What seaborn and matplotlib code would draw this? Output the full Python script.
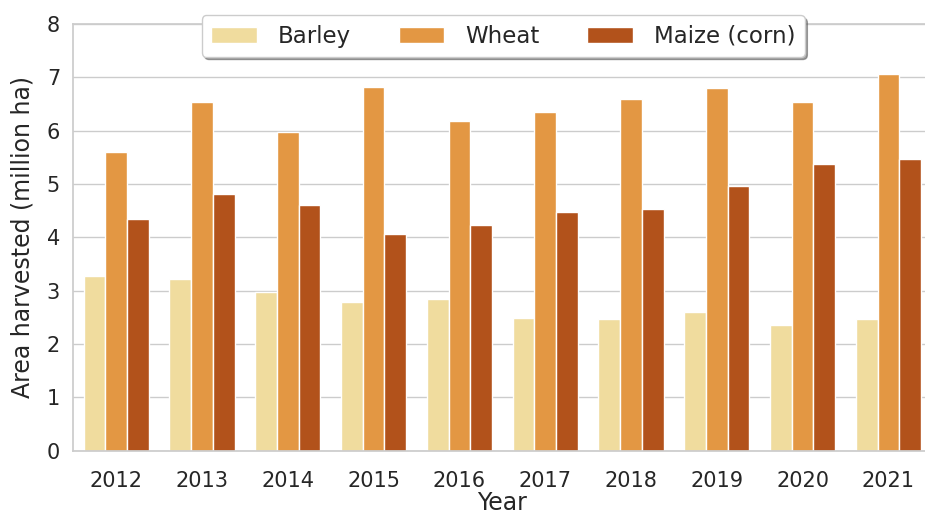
import pandas as pd
import matplotlib.pyplot as plt
import seaborn as sns

# Area harvested per crop, million hectares
years = [2012, 2013, 2014, 2015, 2016, 2017, 2018, 2019, 2020, 2021]
barley = [3.27, 3.21, 2.98, 2.79, 2.84, 2.49, 2.47, 2.60, 2.36, 2.46]
wheat = [5.60, 6.54, 5.98, 6.81, 6.19, 6.35, 6.60, 6.80, 6.54, 7.07]
maize = [4.35, 4.81, 4.61, 4.06, 4.23, 4.47, 4.54, 4.97, 5.37, 5.46]
crops = ['Barley', 'Wheat', 'Maize (corn)']

df = pd.DataFrame({'Year': years, 'Barley': barley, 'Wheat': wheat, 'Maize (corn)': maize})
long_df = df.melt(id_vars='Year', value_vars=crops, var_name='Crop', value_name='Area')

sns.set_theme(style="whitegrid")
plt.rcParams['font.family'] = ['DejaVu Sans']

fig = plt.figure(figsize=(9.25, 5.15), dpi=100)
# axes run a little past the right edge, like the cropped original
ax = fig.add_axes([73.3 / 925, 1 - 450.6 / 515, 858 / 925, 426.6 / 515])

sns.barplot(data=long_df, x='Year', y='Area', hue='Crop', hue_order=crops,
            palette='YlOrBr', edgecolor='white', linewidth=1, width=0.76, ax=ax)

ax.set_ylim(0, 8)
ax.set_xlim(-0.5, 9.5)
ax.set_xlabel('Year', fontsize=17, labelpad=0)
ax.set_ylabel('Area harvested (million ha)', fontsize=17, labelpad=9)
ax.tick_params(axis='both', labelsize=15)
ax.tick_params(axis='x', pad=8.5)
ax.xaxis.grid(False)

leg = ax.legend(loc='upper center', bbox_to_anchor=(0.501, 1.047), ncol=3,
                fontsize=16.5, frameon=True, shadow=True, fancybox=True,
                handlelength=2.0, columnspacing=2.1, handletextpad=0.9,
                borderpad=0.4)

plt.savefig('out.png', dpi=100)
